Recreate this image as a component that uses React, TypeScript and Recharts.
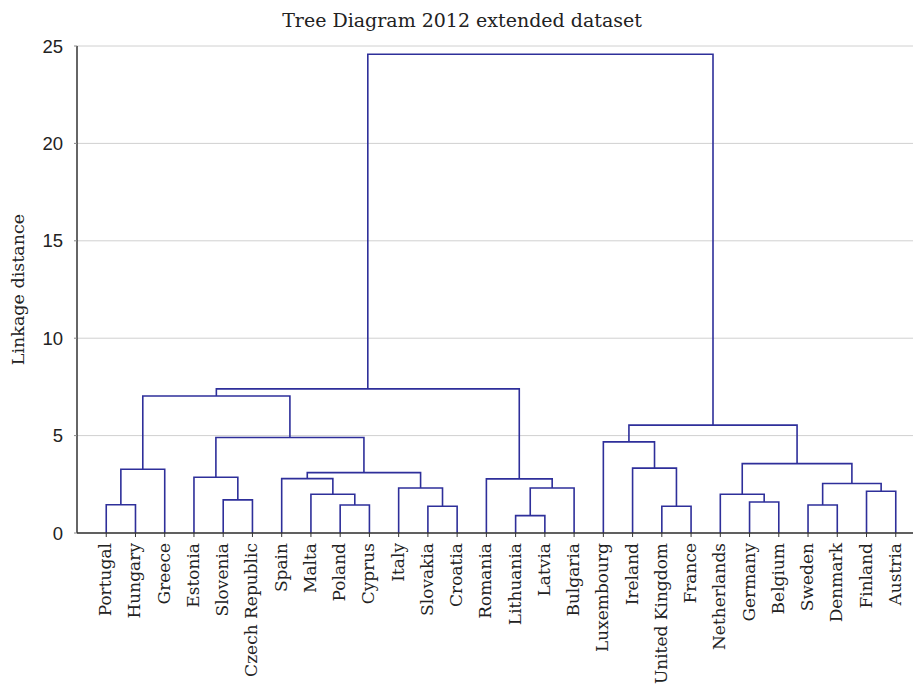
import React from 'react';
import { ComposedChart, Line, XAxis, YAxis, CartesianGrid, Label } from 'recharts';

const leaves: string[] = [
  'Portugal', 'Hungary', 'Greece', 'Estonia', 'Slovenia', 'Czech Republic', 'Spain', 'Malta',
  'Poland', 'Cyprus', 'Italy', 'Slovakia', 'Croatia', 'Romania', 'Lithuania', 'Latvia',
  'Bulgaria', 'Luxembourg', 'Ireland', 'United Kingdom', 'France', 'Netherlands', 'Germany',
  'Belgium', 'Sweden', 'Denmark', 'Finland', 'Austria',
];

// merges: [left node, right node, linkage distance]; node ids 0..27 are leaves, 28+ are merges in order
const mergeLeft: number[] = [0, 28, 4, 3, 8, 7, 6, 11, 10, 34, 31, 29, 14, 40, 13, 39, 19, 18, 17, 22, 21, 24, 26, 49, 48, 46, 43];
const mergeRight: number[] = [1, 2, 5, 30, 9, 32, 33, 12, 35, 36, 37, 38, 15, 16, 41, 42, 20, 44, 45, 23, 47, 25, 27, 50, 51, 52, 53];
const mergeHeight: number[] = [1.45, 3.27, 1.70, 2.86, 1.44, 1.99, 2.79, 1.37, 2.31, 3.10, 4.90, 7.03, 0.89, 2.31, 2.78, 7.40, 1.37, 3.33, 4.68, 1.59, 1.99, 1.44, 2.14, 2.54, 3.56, 5.54, 24.58];

const yTicks: number[] = [0, 5, 10, 15, 20, 25];
const yMinorTicks: number[] = Array.from({ length: 26 }, (_, i) => i);
const leafTicks: number[] = leaves.map((_, i) => i + 1);

const LINE_COLOR = '#2e2f9a';
const SERIF = "'DejaVu Serif', serif";

type Pt = { x: number; y: number };
const nodeX: number[] = leaves.map((_, i) => i + 1);
const nodeY: number[] = leaves.map(() => 0);
const links: Pt[][] = mergeLeft.map((a, k) => {
  const b = mergeRight[k];
  const h = mergeHeight[k];
  const pts = [
    { x: nodeX[a], y: nodeY[a] },
    { x: nodeX[a], y: h },
    { x: nodeX[b], y: h },
    { x: nodeX[b], y: nodeY[b] },
  ];
  nodeX.push((nodeX[a] + nodeX[b]) / 2);
  nodeY.push(h);
  return pts;
});

const CountryTick = (props: any) => {
  const { x, y, payload } = props;
  const name = leaves[payload.value - 1] ?? '';
  return (
    <text
      transform={`translate(${x + 5},${y + 4}) rotate(-90)`}
      textAnchor="end"
      fontFamily={SERIF}
      fontSize={17}
      fill="#222"
    >
      {name}
    </text>
  );
};

export default function App() {
  return (
    <div style={{ position: 'absolute', left: 0, top: 0, width: 913, height: 690, overflow: 'hidden', background: '#fff' }}>
      <svg width={913} height={40} style={{ position: 'absolute', left: 0, top: 0 }}>
        <text x={462} y={27} textAnchor="middle" fontFamily={SERIF} fontSize={19} fill="#222">
          Tree Diagram 2012 extended dataset
        </text>
      </svg>
      <ComposedChart width={930} height={690} margin={{ top: 46, right: 5, bottom: 7, left: 0 }}>
        <CartesianGrid vertical={false} stroke="#d0d0d0" strokeWidth={1} />
        <XAxis
          type="number"
          dataKey="x"
          domain={[0, 29]}
          ticks={leafTicks}
          interval={0}
          height={150}
          tickSize={4}
          tick={<CountryTick />}
          axisLine={{ stroke: '#333', strokeWidth: 1.5 }}
          tickLine={{ stroke: '#333' }}
        />
        <XAxis
          xAxisId="top"
          orientation="top"
          type="number"
          domain={[0, 29]}
          ticks={leafTicks}
          interval={0}
          mirror
          height={0}
          tickSize={4}
          tickFormatter={() => ''}
          axisLine={{ stroke: '#333', strokeWidth: 1.5 }}
          tickLine={{ stroke: '#333' }}
        />
        <YAxis
          type="number"
          domain={[0, 25]}
          ticks={yTicks}
          interval={0}
          width={77}
          tickSize={3}
          tickMargin={11}
          tick={{ fontFamily: "'Liberation Sans', Arial, sans-serif", fontSize: 18.5, fill: '#222' }}
          axisLine={{ stroke: '#333', strokeWidth: 1.5 }}
          tickLine={{ stroke: '#888' }}
        >
          <Label
            content={(p: any) => {
              const vb = p.viewBox;
              const cx = vb.x + 18;
              const cy = vb.y + vb.height / 2;
              return (
                <text
                  transform={`translate(${cx},${cy}) rotate(-90)`}
                  textAnchor="middle"
                  dominantBaseline="central"
                  fontFamily={SERIF}
                  fontSize={17.5}
                  fill="#222"
                >
                  Linkage distance
                </text>
              );
            }}
          />
        </YAxis>
        <YAxis
          yAxisId="minor"
          type="number"
          domain={[0, 25]}
          ticks={yMinorTicks}
          interval={0}
          mirror
          width={0}
          tickSize={3}
          tickFormatter={() => ''}
          axisLine={false}
          tickLine={{ stroke: '#555' }}
        />
        {links.map((pts, i) => (
          <Line
            key={i}
            data={pts}
            dataKey="y"
            type="linear"
            stroke={LINE_COLOR}
            strokeWidth={1.6}
            dot={false}
            activeDot={false}
            isAnimationActive={false}
            legendType="none"
          />
        ))}
      </ComposedChart>
    </div>
  );
}
